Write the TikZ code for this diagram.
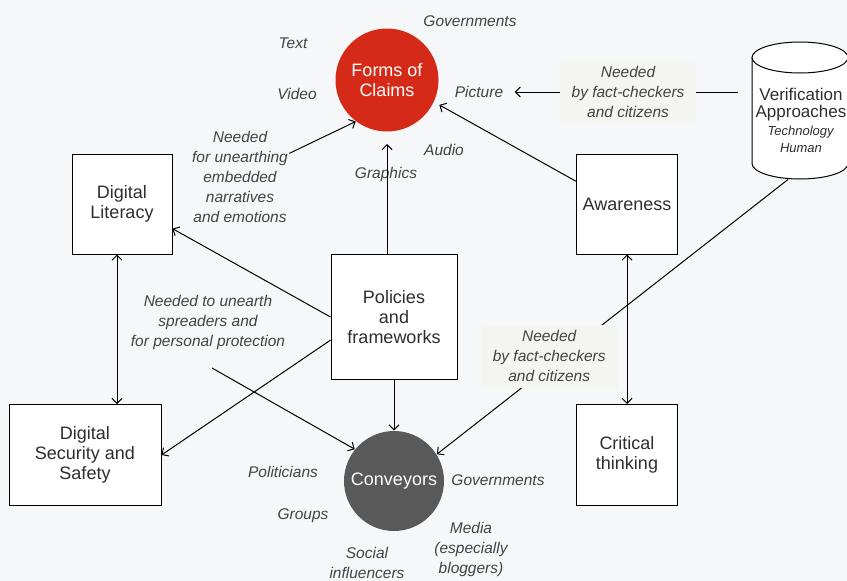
\documentclass[tikz,border=0pt]{standalone}
\usepackage{fontspec}
\setmainfont{Liberation Sans}
\usetikzlibrary{positioning}
\usetikzlibrary{shapes.geometric}
\usetikzlibrary{arrows.meta}

\definecolor{bgcol}{HTML}{F6F7F9}
\definecolor{claimred}{HTML}{D52A17}
\definecolor{convgray}{HTML}{595959}
\definecolor{lblfill}{HTML}{F4F4F1}
\definecolor{txtcol}{HTML}{2E2E2E}

\begin{document}
\begin{tikzpicture}
        [x=1pt, y=-1pt, line width=1pt, >={Straight Barb[length=5pt,width=10pt]},
         box/.style={draw, fill=white, text=txtcol, align=center, inner sep=2pt,
                     font=\fontsize{18}{20}\selectfont},
         blob/.style={circle, text=white, align=center, inner sep=0pt,
                      font=\fontsize{18}{20}\selectfont},
         tag/.style={text=txtcol!90, align=center, inner sep=1pt,
                     font=\fontsize{15.5}{20}\selectfont\itshape},
         lbl/.style={tag, fill=lblfill, inner xsep=12pt, inner ysep=6pt}]
      \fill[bgcol] (0,0) rectangle (847,581);
      \useasboundingbox (0,0) rectangle (847,581);

      % main nodes
      \node[blob, fill=claimred, minimum size=103pt] (forms) at (387,80) {Forms of\\Claims};
      \node[blob, fill=convgray, minimum size=100pt] (conv) at (394,481) {Conveyors};
      \node[box, minimum width=100pt, minimum height=100pt] (lit) at (122,204) {Digital\\Literacy};
      \node[box, minimum width=101pt, minimum height=100pt] (aware) at (627,204) {Awareness};
      \node[box, minimum width=126pt, minimum height=125pt] (pol) at (394,317) {Policies\\and\\frameworks};
      \node[box, minimum width=152pt, minimum height=101pt] (sec) at (85,455) {Digital\\Security and\\Safety};
      \node[box, minimum width=101pt, minimum height=101pt] (crit) at (627,455) {Critical\\thinking};

      % the store of approaches
      \draw[fill=white] (752,57.5) -- (752,163.5)
            arc[start angle=180, end angle=360, x radius=48pt, y radius=15.5pt] -- (848,57.5);
      \draw[fill=white] (800,57.5) ellipse [x radius=48pt, y radius=15.5pt];
      \node[inner sep=0pt, minimum width=96pt, minimum height=137pt] (verif) at (800,110.5) {};
      \node[text=txtcol, align=center, font=\fontsize{17}{17}\selectfont] (veriftxt) at (801,120)
            {Verification\\Approaches\\[1pt]\textit{\fontsize{13}{17}\selectfont Technology}\\\textit{\fontsize{13}{17}\selectfont Human}};

      % kinds of claims
      \node[tag] (gov1) at (470,21) {Governments};
      \node[tag] (txt) at (293,43) {Text};
      \node[tag] (vid) at (297,94) {Video};
      \node[tag] (pic) at (479,92) {Picture};
      \node[tag] (aud) at (444,150) {Audio};
      \node[tag] (gra) at (386,174) {Graphics};

      % kinds of conveyors
      \node[tag] (polit) at (283,472) {Politicians};
      \node[tag] (gov2) at (498,480) {Governments};
      \node[tag] (grp) at (303,516) {Groups};
      \node[tag] (media) at (471,549) {Media\\(especially\\bloggers)};
      \node[tag] (soc) at (367,563) {Social\\influencers};

      % connectors
      \node[tag] (unearth) at (240,177) {Needed\\for unearthing\\embedded\\narratives\\and emotions};
      \draw[->] (unearth) -- (forms.233);
      \draw[->, shorten >=6pt] (aware.156) -- (forms.335);
      \draw[->, shorten >=12pt] (forms |- pol.north) -- (forms);
      \draw[->] (pol.south) -- (conv);
      \draw[->] (pol.west) -- (lit.334);
      \draw[->] (pol.200) -- (sec.east);
      \draw[<->] ([xshift=-5pt]lit.south) -- ([xshift=-5pt]lit.south |- sec.north);
      \draw[<->] (aware.south) -- (crit.north);
      \draw[->, shorten <=14pt, shorten >=10pt] (verif.west |- pic.east) -- node[lbl] {Needed\\by fact-checkers\\and citizens} (pic.east);
      \draw[->] ([xshift=-12pt]verif.south) -- node[lbl, pos=0.68, yshift=10pt] {Needed\\by fact-checkers\\and citizens} (conv.32);
      \node[tag] (spread) at (208,322) {Needed to unearth\\spreaders and\\for personal protection};
      \coordinate (sp) at (212,368);
      \draw[->] (sp) -- (conv.141);
\end{tikzpicture}
\end{document}
